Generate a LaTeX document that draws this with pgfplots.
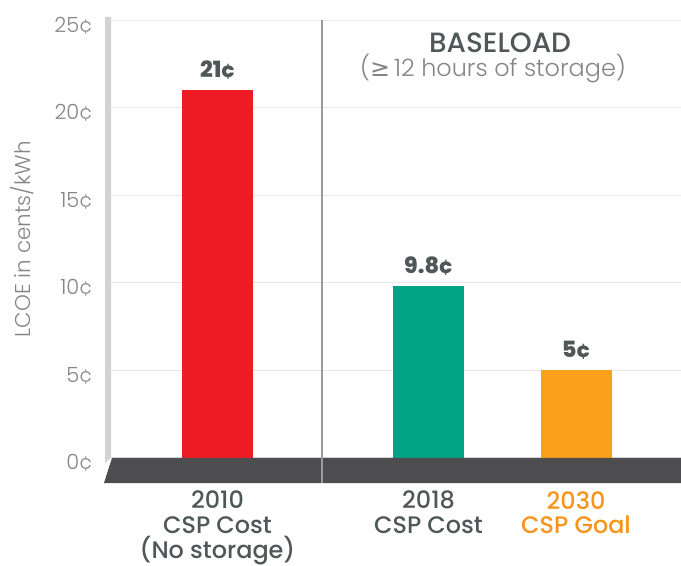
\documentclass[border=0pt]{standalone}
\usepackage{fontspec}
\setmainfont{Poppins}
\newfontfamily\pmed{Poppins Medium}
\newfontfamily\plight{Poppins Light}
\newfontfamily\pxbold{Poppins ExtraBold}
\newfontfamily\dejavu{DejaVu Sans}
\usepackage{pgfplots}
\pgfplotsset{compat=1.18}
\definecolor{barred}{HTML}{ED1C24}
\definecolor{barteal}{HTML}{00A386}
\definecolor{barorange}{HTML}{FBA01A}
\definecolor{txtorange}{HTML}{F7941D}
\definecolor{floorgray}{HTML}{4D4D4F}
\definecolor{wallgray}{HTML}{D1D3D4}
\definecolor{txtdark}{HTML}{4F5758}
\definecolor{ticktxt}{HTML}{858585}
\definecolor{gridgray}{HTML}{E8E8E8}
\definecolor{sepgray}{HTML}{9A9A9A}
\begin{document}
\begin{tikzpicture}
\useasboundingbox (0,0) rectangle (681bp,566bp);
\begin{axis}[
  at={(105bp,83bp)}, anchor=south west,
  width=576bp, height=466bp, scale only axis,
  xmin=105, xmax=681, ymin=-1.43, ymax=25.2,
  axis line style={draw=none},
  tick style={draw=none},
  ytick={0,5,10,15,20,25},
  yticklabels={0¢,5¢,10¢,15¢,20¢,25¢},
  yticklabel style={anchor=east, inner sep=0pt, xshift=-12bp, yshift=-5bp,
    font=\plight\fontsize{21}{24}\selectfont, text=ticktxt},
  ymajorgrids, grid style={color=gridgray, line width=1bp},
  xtick={217.5,428.5,576},
  xticklabels={{2010\\CSP Cost\\(No storage)},{2018\\CSP Cost},{\textcolor{txtorange}{2030}\\\textcolor{txtorange}{CSP Goal}}},
  xticklabel style={anchor=north, align=center, inner sep=0pt, yshift=-8bp,
    font=\pmed\fontsize{24}{25}\selectfont, text=txtdark},
  clip=false,
  point meta=explicit symbolic,
  nodes near coords={\pgfplotspointmeta},
  every node near coord/.append style={anchor=south, inner sep=0pt, yshift=11bp,
    font=\pxbold\fontsize{22.5}{24}\selectfont, text=txtdark},
]
% left wall
\addplot[fill=wallgray, draw=none, nodes near coords={}] coordinates {(105,25.2) (111,25.2) (111,0) (105,-0.3)} \closedcycle;
% bars
\addplot[ybar, bar width=71, bar shift=0pt, fill=barred, draw=none] coordinates {(217.5,21) [21¢]};
\addplot[ybar, bar width=71, bar shift=0pt, fill=barteal, draw=none] coordinates {(428.5,9.8) [9.8¢]};
\addplot[ybar, bar width=71, bar shift=0pt, fill=barorange, draw=none] coordinates {(576,5) [5¢]};
% floor
\addplot[fill=floorgray, draw=none, nodes near coords={}] coordinates {(112,0) (681,0) (681,-1.43) (104,-1.43) (112,0)};
% separator
\addplot[sepgray, line width=1.5bp, nodes near coords={}] coordinates {(322,25.0) (322,-1.43)};
\node[font=\pmed\fontsize{28}{30}\selectfont, text=txtdark] at (axis cs:500,23.7) {BASELOAD};
\node[font=\plight\fontsize{24}{26}\selectfont, text=ticktxt] at (axis cs:493,22.25) {({\dejavu ≥}\,12 hours of storage)};
\node[rotate=90, font=\plight\fontsize{21.5}{24}\selectfont, text=ticktxt] at (axis cs:22,12.5) {LCOE in cents/kWh};
\end{axis}
\end{tikzpicture}
\end{document}
